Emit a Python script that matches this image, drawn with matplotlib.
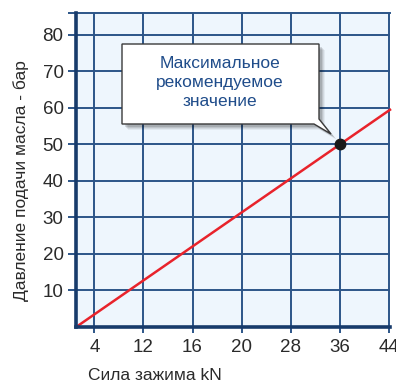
import matplotlib
matplotlib.use("Agg")
import matplotlib.pyplot as plt
from matplotlib.patches import Polygon
from matplotlib import font_manager

names = {f.name for f in font_manager.fontManager.ttflist}
FONT = 'Liberation Sans Narrow' if 'Liberation Sans Narrow' in names else 'Liberation Sans'
plt.rcParams['font.family'] = [FONT, 'DejaVu Sans']

# ---- data ----
x_labels = ['4', '12', '16', '20', '28', '36', '44']
y_ticks = [10, 20, 30, 40, 50, 60, 70, 80]
line_pos = [-0.37, 6.02]      # positions on the (categorical) force axis
line_bar = [0, 59.5]          # pressure, bar
max_pos = 5                   # 36 kN
max_bar = 50
callout_lines = ['Максимальное', 'рекомендуемое', 'значение']

W, H = 396, 381
fig = plt.figure(figsize=(W / 100, H / 100), dpi=100)
fig.patch.set_facecolor('white')

def fx(px):
    return px / W

def fy(py):
    return 1 - py / H

ax = fig.add_axes([fx(76), fy(327), fx(390) - fx(76), fy(13) - fy(327)])
ax.set_facecolor('#EEF6FD')
ax.set_xlim(-0.373, 6.02)
ax.set_ylim(0, 86)

grid_c = '#2C5588'
spine_c = '#173B6B'
for i in range(len(x_labels)):
    ax.axvline(i, color=grid_c, lw=1.4, zorder=1)
for v in y_ticks:
    ax.axhline(v, color=grid_c, lw=1.4, zorder=1)
ax.axhline(86, color=grid_c, lw=1.4, zorder=1, clip_on=False)

ax.set_xticks(range(len(x_labels)))
ax.set_xticklabels(x_labels)
ax.set_yticks(y_ticks)
ax.set_yticks([86], minor=True)
ax.tick_params(axis='y', which='both', length=6, width=1.4, color=grid_c, pad=3,
               labelsize=13.5, labelcolor='#2a2a2a')
ax.tick_params(axis='x', length=4, width=1.4, color=grid_c, pad=5,
               labelsize=13.5, labelcolor='#2a2a2a')

for s in ['top', 'right']:
    ax.spines[s].set_visible(False)
for s in ['left', 'bottom']:
    ax.spines[s].set_color(spine_c)
    ax.spines[s].set_linewidth(2.6)
    ax.spines[s].set_zorder(4)

ax.plot(line_pos, line_bar, color='#E8232B', lw=1.8, zorder=3, clip_on=False)
ax.plot([max_pos], [max_bar], 'o', color='#1a1a1a', ms=7.5, zorder=5)

# callout box with pointer (figure pixel coords)
pts = [(122, 44), (319, 44), (319, 119), (331, 134), (314, 124), (122, 124)]
for k, a in enumerate([0.05, 0.07, 0.09, 0.12]):
    off = 6 - k
    poly = Polygon([(fx(x + off), fy(y + off)) for x, y in pts],
                   closed=True, transform=fig.transFigure,
                   facecolor='#000000', edgecolor='none', alpha=a, zorder=6)
    fig.add_artist(poly)
box = Polygon([(fx(x), fy(y)) for x, y in pts], closed=True,
              transform=fig.transFigure, facecolor='white',
              edgecolor='#3a3a3a', lw=1.0, zorder=7)
fig.add_artist(box)

for i, t in enumerate(callout_lines):
    fig.text(fx(220), fy(64 + i * 19), t, ha='center', va='center',
             fontsize=12.5, color='#1F4C8A', zorder=8)

fig.text(fx(155), fy(375), 'Сила зажима kN', ha='center', va='center',
         fontsize=12.5, color='#2a2a2a')
fig.text(fx(21), fy(181), 'Давление подачи масла - бар', ha='center',
         va='center', rotation=90, fontsize=12.5, color='#2a2a2a')

fig.savefig('out.png', dpi=100)
